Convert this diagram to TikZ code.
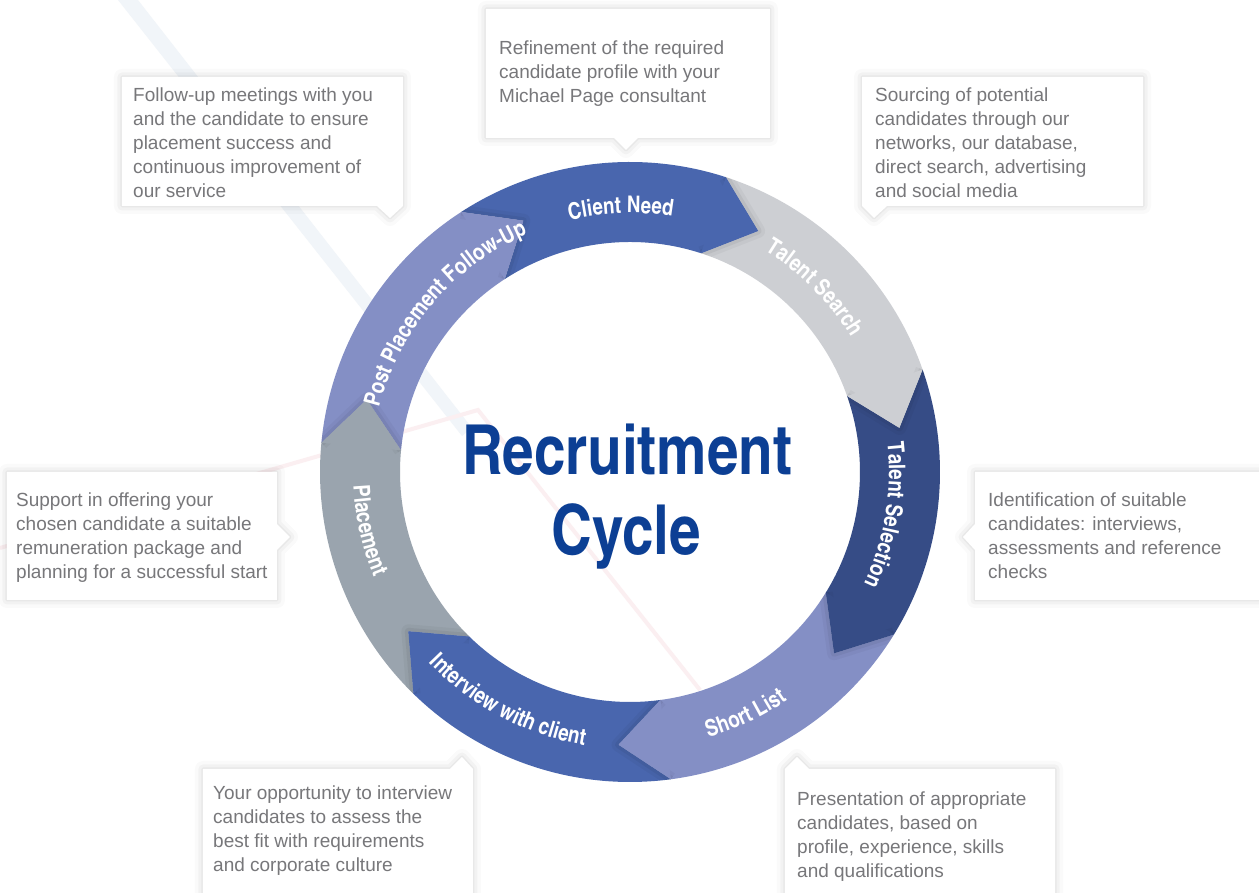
\documentclass[tikz,border=0pt]{standalone}
\usepackage{fontspec}
\setmainfont{Liberation Sans}
\newfontfamily\cb{texgyreheroscn-bold.otf}
\usetikzlibrary{decorations.text}
\definecolor{cnblue}{HTML}{4966AE}
\definecolor{tsgray}{HTML}{CDCFD3}
\definecolor{tselnavy}{HTML}{364C86}
\definecolor{slperi}{HTML}{848FC5}
\definecolor{plgray}{HTML}{9AA4AE}
\definecolor{titleblue}{HTML}{0C3F94}
\definecolor{boxtext}{HTML}{77777A}
\definecolor{streakblue}{HTML}{F1F5F9}
\definecolor{streakpink}{HTML}{FBEFF1}
\newcommand\lbl{\cb\fontsize{23}{23}\selectfont\color{white}}
\newcommand\ringseg[3]{%
  \fill[#3] (#1:310pt) arc[start angle=#1, end angle=#2, radius=310pt]
    -- ({#2-10}:273pt) -- (#2:230pt)
    arc[start angle=#2, end angle=#1, radius=230pt]
    -- ({#1-10}:273pt) -- cycle;}
\newcommand\headglow[2]{%
  \draw[black, opacity=0.035, line width=14pt, line join=round] (#1:310pt) -- ({#1-10}:273pt) -- (#1:230pt);
  \draw[black, opacity=0.05, line width=7pt, line join=round] (#1:310pt) -- ({#1-10}:273pt) -- (#1:230pt);
  \fill[#2] (#1:310pt) -- ({#1-10}:273pt) -- (#1:230pt) -- cycle;}
\newcommand\cwlabel[2]{%
  \path[decorate, decoration={text along path, text={|\lbl|#2}, text align=center}]
    ({#1+50}:259pt) arc[start angle={#1+50}, end angle={#1-50}, radius=259pt];}
\newcommand\ccwlabel[2]{%
  \path[decorate, decoration={text along path, text={|\lbl|#2}, text align=center}]
    ({#1-50}:277pt) arc[start angle={#1-50}, end angle={#1+50}, radius=277pt];}
\begin{document}
\begin{tikzpicture}[x=1pt, y=1pt,
  boxtxt/.style={anchor=north west, inner sep=0pt, align=left, text=boxtext,
    font=\fontsize{19}{24}\selectfont},
  callbox/.style={fill=white,
    preaction={draw=black, fill=none, line width=16pt, line join=round, opacity=0.02},
    preaction={draw=black, fill=none, line width=9pt, line join=round, opacity=0.03},
    preaction={draw=black, fill=none, line width=3pt, line join=round, opacity=0.04}}]
\useasboundingbox[fill=white] (-630,-421) rectangle (629,472);
\clip (-630,-421) rectangle (629,472);

% ---------- background, callouts (image coordinates) ----------
\begin{scope}[x=1pt, y=-1pt, shift={(-630pt,472pt)}]
  \fill[streakblue] (118,0) -- (138,0) -- (472,428) -- (462,436) -- cycle;
  \draw[streakpink, line width=4pt] (0,548) -- (478,410) -- (700,690);

  \path[callbox] (486,9) -- (770,9) -- (770,138) -- (638,138) -- (626,150) -- (614,138) -- (486,138) -- cycle;
  \path[callbox] (122,77) -- (403,77) -- (403,206) -- (390,218) -- (377,206) -- (122,206) -- cycle;
  \path[callbox] (862,77) -- (1143,77) -- (1143,206) -- (887,206) -- (874,218) -- (862,206) -- cycle;
  \path[callbox] (975,472) -- (1275,472) -- (1275,600) -- (975,600) -- (975,550) -- (963,537) -- (975,524) -- cycle;
  \path[callbox] (7,472) -- (277,472) -- (277,524) -- (290,537) -- (277,550) -- (277,600) -- (7,600) -- cycle;
  \path[callbox] (203,769) -- (450,769) -- (462,757) -- (473,769) -- (473,905) -- (203,905) -- cycle;
  \path[callbox] (785,769) -- (797,757) -- (809,769) -- (1055,769) -- (1055,905) -- (785,905) -- cycle;

  \node[boxtxt] (d1) at (499,41) {Refinement of the required\\candidate profile with your\\Michael Page consultant};
  \node[boxtxt] (d2) at (133,88) {Follow-up meetings with you\\and the candidate to ensure\\placement success and\\continuous improvement of\\our service};
  \node[boxtxt] (d3) at (875,88) {Sourcing of potential\\candidates through our\\networks, our database,\\direct search, advertising\\and social media};
  \node[boxtxt] (d4) at (988,493) {Identification of suitable\\candidates: interviews,\\assessments and reference\\checks};
  \node[boxtxt] (d5) at (16,493) {Support in offering your\\chosen candidate a suitable\\remuneration package and\\planning for a successful start};
  \node[boxtxt] (d6) at (213,786) {Your opportunity to interview\\candidates to assess the\\best fit with requirements\\and corporate culture};
  \node[boxtxt] (d7) at (797,792) {Presentation of appropriate\\candidates, based on\\profile, experience, skills\\and qualifications};
\end{scope}

% ---------- ring ----------
\ringseg{123}{72}{cnblue}
\ringseg{72}{19.3}{tsgray}
\ringseg{19.3}{-31.6}{tselnavy}
\ringseg{-31.6}{-82.4}{slperi}
\ringseg{-82.4}{-134.3}{cnblue}
\ringseg{-134.3}{-185.4}{plgray}
\ringseg{-185.4}{-237}{slperi}

\begin{scope}
  \clip (310pt,0pt) arc[start angle=0, end angle=360, radius=310pt]
     -- (230pt,0pt) arc[start angle=360, end angle=0, radius=230pt] -- cycle;
  \headglow{72}{cnblue}
  \headglow{19.3}{tsgray}
  \headglow{-31.6}{tselnavy}
  \headglow{-82.4}{slperi}
  \headglow{-134.3}{cnblue}
  \headglow{-185.4}{plgray}
  \headglow{-237}{slperi}
\end{scope}

\cwlabel{92}{Client Need}
\cwlabel{45}{Talent Search}
\cwlabel{-9.5}{Talent Selection}
\ccwlabel{-64.5}{Short List}
\ccwlabel{-118}{Interview with client}
\ccwlabel{-167.4}{Placement}
\cwlabel{139.5}{Post Placement Follow-Up}

\node[font=\cb\fontsize{69}{69}\selectfont, text=titleblue, anchor=base, inner sep=0pt] (rc1) at (-3,-3) {Recruitment};
\node[font=\cb\fontsize{69}{69}\selectfont, text=titleblue, anchor=base, inner sep=0pt] (rc2) at (-4,-83) {Cycle};
\end{tikzpicture}
\end{document}
